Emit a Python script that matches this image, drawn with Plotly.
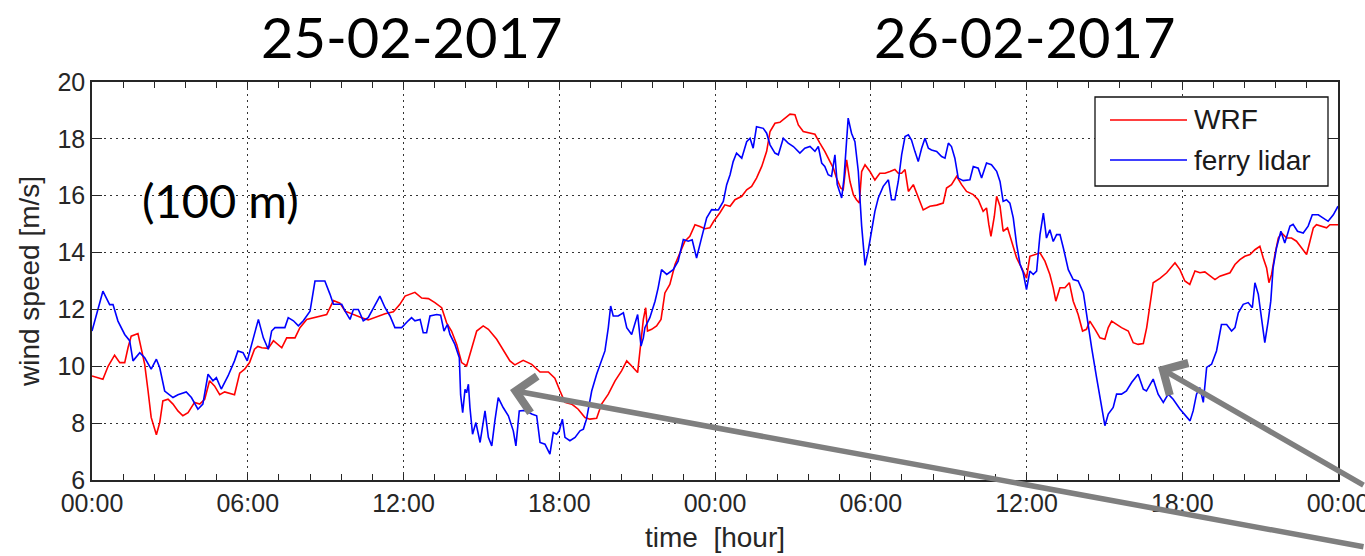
import plotly.graph_objects as go

# ---------------- data ----------------
wrf_hours = [0.0, 0.42, 0.62, 0.87, 1.07, 1.26, 1.39, 1.51, 1.77, 1.90, 2.03, 2.16, 2.28, 2.48, 2.61, 2.73, 2.93,
             3.12, 3.31, 3.50, 3.70, 3.95, 4.15, 4.34, 4.53, 4.72, 4.92, 5.11, 5.49, 5.69, 5.88, 6.07, 6.26, 6.39,
             6.54, 6.79, 6.99, 7.31, 7.50, 7.82, 8.01, 8.27, 8.59, 9.04, 9.30, 9.55, 9.75, 10.13, 10.39, 10.64,
             10.96, 11.29, 11.61, 11.86, 12.06, 12.44, 12.70, 12.96, 13.21, 13.47, 13.66, 13.85, 14.05, 14.24,
             14.43, 14.62, 14.82, 15.07, 15.27, 15.59, 15.84, 16.10, 16.29, 16.61, 16.94, 17.26, 17.58, 17.83,
             18.03, 18.22, 18.48, 18.73, 18.99, 19.18, 19.44, 19.63, 19.89, 20.15, 20.40, 20.60, 20.79, 21.02,
             21.15, 21.24, 21.33, 21.40, 21.56, 21.75, 21.92, 22.07, 22.26, 22.46, 22.65, 22.84, 23.03, 23.23,
             23.42, 23.61, 23.80, 23.95, 24.19, 24.38, 24.58, 24.77, 25.03, 25.22, 25.41, 25.60, 25.80, 25.99,
             26.12, 26.31, 26.50, 26.69, 26.89, 27.08, 27.21, 27.40, 27.66, 27.85, 28.04, 28.23, 28.43, 28.56,
             28.68, 28.84, 28.94, 29.07, 29.20, 29.33, 29.45, 29.56, 29.65, 29.78, 29.97, 30.16, 30.35, 30.55,
             30.74, 30.93, 31.06, 31.19, 31.32, 31.45, 31.64, 31.83, 32.02, 32.28, 32.54, 32.79, 32.92, 33.11,
             33.31, 33.50, 33.69, 33.95, 34.14, 34.33, 34.46, 34.55, 34.63, 34.76, 34.85, 34.98, 35.10, 35.27,
             35.43, 35.62, 35.81, 36.00, 36.13, 36.32, 36.52, 36.71, 36.90, 37.03, 37.13, 37.29, 37.48, 37.65,
             37.80, 37.99, 38.16, 38.31, 38.44, 38.64, 38.83, 39.02, 39.15, 39.28, 39.47, 39.66, 39.92, 40.11,
             40.30, 40.50, 40.63, 40.75, 40.88, 41.14, 41.40, 41.72, 41.91, 42.10, 42.29, 42.49, 42.68, 42.87,
             43.07, 43.26, 43.45, 43.64, 43.84, 44.03, 44.22, 44.41, 44.61, 44.80, 44.99, 45.12, 45.25, 45.34,
             45.44, 45.57, 45.70, 45.83, 46.02, 46.21, 46.40, 46.60, 46.79, 46.92, 47.05, 47.17, 47.37, 47.56,
             47.69, 48.0]
wrf_speed = [9.66, 9.54, 10.00, 10.39, 10.13, 10.13, 10.66, 11.06, 11.15, 10.66, 10.07, 9.13, 8.20, 7.59, 8.02, 8.78,
             8.84, 8.67, 8.43, 8.26, 8.37, 8.73, 8.67, 8.84, 9.49, 9.31, 9.00, 9.10, 9.00, 9.76, 9.90, 10.13, 10.60,
             10.70, 10.65, 10.63, 10.90, 10.65, 11.00, 11.00, 11.36, 11.65, 11.73, 11.82, 12.31, 12.22, 11.94,
             11.82, 11.71, 11.63, 11.73, 11.85, 11.92, 12.18, 12.47, 12.60, 12.40, 12.38, 12.24, 12.06, 11.53,
             11.24, 10.77, 10.13, 10.01, 10.60, 11.24, 11.42, 11.30, 10.95, 10.60, 10.19, 10.05, 10.21, 10.07,
             9.80, 9.80, 9.58, 9.13, 8.73, 8.67, 8.49, 8.20, 8.14, 8.17, 8.67, 9.02, 9.49, 9.84, 10.19, 10.01,
             9.78, 10.89, 11.65, 12.06, 11.24, 11.30, 11.42, 11.65, 12.58, 12.88, 13.58, 13.99, 14.40, 14.57,
             14.98, 14.92, 14.84, 14.87, 15.10, 15.40, 15.68, 15.63, 15.86, 15.98, 16.21, 16.33, 16.62, 17.03,
             17.56, 18.26, 18.55, 18.58, 18.73, 18.87, 18.85, 18.49, 18.26, 18.20, 18.16, 17.85, 17.56, 17.20,
             16.97, 16.62, 16.27, 16.21, 17.26, 16.50, 16.04, 15.86, 15.74, 16.85, 17.09, 16.85, 16.55, 16.79,
             16.79, 16.85, 16.92, 16.79, 16.79, 16.92, 16.15, 16.39, 15.92, 15.50, 15.63, 15.67, 15.74, 16.27,
             16.39, 16.68, 16.39, 16.15, 16.04, 15.86, 15.45, 15.57, 14.98, 14.57, 15.27, 15.98, 15.63, 14.75,
             14.87, 14.40, 13.81, 13.46, 13.10, 13.87, 13.93, 13.99, 13.70, 13.23, 12.76, 12.29, 12.76, 12.76,
             12.94, 12.29, 11.82, 11.24, 11.30, 11.59, 11.30, 11.00, 10.95, 11.36, 11.59, 11.47, 11.36, 11.24,
             10.83, 10.77, 10.80, 11.36, 12.18, 12.94, 13.09, 13.29, 13.64, 13.40, 13.00, 12.88, 13.35, 13.29,
             13.32, 13.17, 13.05, 13.17, 13.23, 13.29, 13.58, 13.75, 13.87, 13.93, 14.10, 14.22, 13.81, 13.46,
             12.94, 13.23, 13.93, 14.51, 14.69, 14.51, 14.51, 14.40, 14.16, 13.93, 14.40, 14.87, 14.98, 14.92,
             14.87, 14.98, 14.98]

lidar_hours = [0.0, 0.42, 0.68, 0.81, 1.00, 1.26, 1.45, 1.58, 1.84, 2.03, 2.28, 2.48, 2.61, 2.80, 3.12, 3.31, 3.63,
               3.83, 4.08, 4.27, 4.47, 4.66, 4.79, 4.98, 5.24, 5.49, 5.62, 5.82, 5.98, 6.14, 6.41, 6.60, 6.79,
               6.92, 7.05, 7.43, 7.56, 7.76, 7.95, 8.14, 8.40, 8.59, 8.97, 9.17, 9.30, 9.62, 9.75, 9.94, 10.07,
               10.26, 10.45, 10.64, 10.84, 11.09, 11.29, 11.48, 11.67, 11.93, 12.18, 12.31, 12.44, 12.64, 12.76,
               12.89, 13.02, 13.28, 13.43, 13.56, 13.69, 13.79, 13.98, 14.15, 14.20, 14.28, 14.37, 14.43, 14.50,
               14.56, 14.66, 14.79, 14.95, 15.14, 15.27, 15.40, 15.52, 15.65, 15.84, 16.04, 16.23, 16.33, 16.46,
               16.68, 16.94, 17.13, 17.26, 17.45, 17.64, 17.77, 17.90, 18.00, 18.12, 18.22, 18.41, 18.61, 18.80,
               18.93, 19.05, 19.25, 19.44, 19.63, 19.76, 19.89, 19.98, 20.08, 20.27, 20.47, 20.60, 20.79, 20.92,
               21.02, 21.15, 21.24, 21.30, 21.49, 21.69, 21.81, 21.94, 22.14, 22.39, 22.58, 22.78, 22.97, 23.12,
               23.29, 23.48, 23.68, 23.87, 24.13, 24.32, 24.45, 24.58, 24.70, 24.83, 25.03, 25.22, 25.35, 25.47,
               25.60, 25.86, 25.99, 26.12, 26.31, 26.44, 26.63, 26.82, 27.02, 27.27, 27.46, 27.66, 27.85, 27.98,
               28.11, 28.23, 28.36, 28.49, 28.62, 28.71, 28.88, 28.97, 29.07, 29.13, 29.26, 29.39, 29.52, 29.65,
               29.78, 29.90, 30.03, 30.16, 30.29, 30.48, 30.68, 30.80, 30.93, 31.06, 31.19, 31.32, 31.45, 31.57,
               31.70, 31.83, 31.96, 32.09, 32.22, 32.34, 32.54, 32.73, 32.86, 32.99, 33.11, 33.24, 33.37, 33.56,
               33.82, 33.95, 34.14, 34.27, 34.46, 34.65, 34.85, 34.98, 35.10, 35.23, 35.36, 35.49, 35.62, 35.75,
               35.87, 36.00, 36.13, 36.26, 36.39, 36.52, 36.65, 36.77, 36.90, 37.03, 37.16, 37.29, 37.42, 37.61,
               37.80, 37.99, 38.19, 38.31, 38.51, 38.70, 38.89, 39.02, 39.15, 39.34, 39.47, 39.66, 39.85, 40.05,
               40.30, 40.50, 40.62, 40.88, 41.07, 41.27, 41.46, 41.65, 41.91, 42.10, 42.30, 42.42, 42.55, 42.68,
               42.81, 42.94, 43.13, 43.32, 43.51, 43.71, 43.90, 44.03, 44.16, 44.35, 44.54, 44.70, 44.80, 44.93,
               45.06, 45.18, 45.31, 45.41, 45.50, 45.63, 45.80, 45.95, 46.15, 46.27, 46.44, 46.66, 46.85, 47.01,
               47.24, 47.43, 47.62, 47.82, 48.0]
lidar_speed = [11.24, 12.64, 12.17, 12.17, 11.59, 11.12, 10.90, 10.19, 10.48, 10.30, 9.90, 10.25, 9.95, 9.13, 8.90,
               9.00, 9.10, 8.90, 8.49, 8.67, 9.72, 9.49, 9.60, 9.20, 9.66, 10.19, 10.54, 10.48, 10.19, 10.77, 11.65,
               11.00, 10.60, 11.24, 11.36, 11.36, 11.71, 11.60, 11.42, 11.60, 11.94, 13.00, 13.00, 12.53, 12.18,
               12.18, 11.94, 11.65, 12.00, 12.00, 11.60, 11.71, 12.06, 12.47, 12.06, 11.77, 11.36, 11.36, 11.60,
               11.71, 11.60, 11.65, 11.18, 11.18, 11.77, 11.82, 11.80, 11.24, 11.47, 11.12, 10.77, 10.30, 9.00,
               8.37, 9.19, 9.07, 9.37, 8.55, 7.61, 8.02, 7.32, 8.43, 7.50, 7.20, 8.08, 8.90, 8.55, 8.26, 7.73,
               7.20, 8.43, 8.45, 8.32, 8.26, 7.32, 7.26, 6.91, 7.67, 7.61, 7.73, 8.14, 7.50, 7.38, 7.50, 7.73,
               7.79, 8.14, 9.13, 9.72, 10.19, 10.54, 11.36, 12.12, 11.77, 11.77, 11.88, 11.36, 11.12, 11.53,
               11.82, 10.71, 11.00, 11.36, 11.71, 12.29, 12.76, 13.40, 13.23, 13.40, 13.70, 14.46, 14.40, 14.45,
               13.81, 14.51, 15.22, 15.51, 15.50, 15.80, 16.39, 16.74, 17.20, 17.50, 17.32, 17.90, 18.02, 17.67,
               18.43, 18.37, 18.20, 17.79, 17.50, 17.44, 18.02, 17.85, 17.73, 17.50, 17.67, 17.73, 17.56, 17.73,
               17.15, 17.03, 16.74, 16.68, 17.44, 16.39, 15.92, 16.62, 18.08, 18.73, 18.20, 17.90, 16.86, 14.93,
               13.55, 14.05, 14.75, 15.45, 15.92, 16.33, 16.56, 15.86, 15.86, 16.50, 17.44, 18.08, 18.14, 17.96,
               17.56, 17.20, 17.67, 18.02, 17.67, 17.61, 17.56, 17.38, 17.32, 17.85, 17.73, 17.32, 16.62, 16.53,
               16.56, 17.03, 16.97, 16.62, 17.15, 17.09, 16.86, 16.50, 15.80, 15.86, 15.74, 15.22, 14.28, 13.60,
               13.30, 12.70, 13.35, 13.23, 13.35, 14.63, 15.39, 14.51, 14.80, 14.39, 14.63, 14.63, 14.16, 13.40,
               13.05, 13.00, 12.59, 11.82, 10.65, 9.60, 8.67, 7.91, 8.32, 8.55, 9.02, 9.02, 9.13, 9.43,
               9.72, 9.19, 9.13, 9.55, 9.02, 8.73, 9.02, 8.84, 8.50, 8.29, 8.08, 8.43, 9.02, 9.25,
               8.73, 9.96, 10.07, 10.54, 11.47, 11.47, 11.24, 11.36, 11.88, 12.18, 12.24, 12.06, 12.94, 12.53,
               11.71, 10.83, 11.59, 12.29, 13.46, 14.16, 14.75, 14.34, 14.93, 14.99, 14.75, 14.69, 14.93, 15.33,
               15.33, 15.22, 15.10, 15.33, 15.63]

tick_hours = [0, 6, 12, 18, 24, 30, 36, 42, 48]
tick_labels = ["00:00", "06:00", "12:00", "18:00", "00:00", "06:00", "12:00", "18:00", "00:00"]
series_names = ["WRF", "ferry lidar"]
series_colors = ["#ff0000", "#0000ff"]
date_labels = ["25-02-2017", "26-02-2017"]

# ---------------- figure ----------------
W, H = 1365, 556
L, R, T, B = 92, 27, 82, 76
pw, ph = W - L - R, H - T - B


def px_x(px):
    return (px - L) / pw


def px_y(py):
    return (H - B - py) / ph


fig = go.Figure()
fig.add_trace(go.Scatter(x=wrf_hours, y=wrf_speed, mode="lines", name=series_names[0],
                         line=dict(color=series_colors[0], width=1.6), showlegend=False))
fig.add_trace(go.Scatter(x=lidar_hours, y=lidar_speed, mode="lines", name=series_names[1],
                         line=dict(color=series_colors[1], width=1.6), showlegend=False))

tick_font = dict(family="Liberation Sans, Arial, sans-serif", size=25, color="#262626")
title_font = dict(family="Liberation Sans, Arial, sans-serif", size=28, color="#262626")

fig.update_xaxes(range=[0, 48], tickvals=tick_hours, ticktext=tick_labels,
                 ticks="inside", ticklen=6, tickwidth=1, tickcolor="#262626",
                 minor=dict(dtick=1.2, tick0=0, ticks="inside", ticklen=6, tickcolor="#262626", showgrid=False),
                 showline=True, linecolor="#262626", linewidth=1.5, mirror="allticks",
                 showgrid=True, gridcolor="#333333", gridwidth=1.3, griddash="1.5px,4.5px",
                 zeroline=False, tickfont=tick_font, ticklabeloverflow="allow",
                 title=dict(text="time\u00a0 [hour]", font=title_font, standoff=12))
fig.update_yaxes(range=[6, 20], dtick=2, tick0=6,
                 ticks="inside", ticklen=10, tickwidth=1, tickcolor="#262626",
                 showline=True, linecolor="#262626", linewidth=1.5, mirror="allticks",
                 showgrid=True, gridcolor="#333333", gridwidth=1.3, griddash="1.5px,4.5px",
                 zeroline=False, tickfont=tick_font,
                 title=dict(text="wind speed [m/s]", font=title_font, standoff=10))

shapes = []
annotations = []

# manual legend (MATLAB style)
shapes.append(dict(type="rect", xref="paper", yref="paper",
                   x0=px_x(1095), x1=px_x(1328), y0=px_y(186), y1=px_y(97),
                   line=dict(color="#111111", width=1.3), fillcolor="white", layer="above"))
for i, (name, col) in enumerate(zip(series_names, series_colors)):
    yy = 120 + 40 * i
    shapes.append(dict(type="line", xref="paper", yref="paper",
                       x0=px_x(1110), x1=px_x(1187), y0=px_y(yy), y1=px_y(yy),
                       line=dict(color=col, width=1.6), layer="above"))
    annotations.append(dict(text=name, xref="paper", yref="paper", x=px_x(1192), y=px_y(yy),
                            xanchor="left", yanchor="middle", showarrow=False,
                            font=dict(family="Liberation Sans, Arial, sans-serif", size=28, color="#1a1a1a")))

# slide texts
slide_font = dict(family="Lato, Noto Sans, sans-serif", size=56, color="black")
annotations.append(dict(text=date_labels[0], xref="paper", yref="paper", x=px_x(412), y=px_y(36),
                        xanchor="center", yanchor="middle", showarrow=False, font=slide_font))
annotations.append(dict(text=date_labels[1], xref="paper", yref="paper", x=px_x(1024), y=px_y(36),
                        xanchor="center", yanchor="middle", showarrow=False, font=slide_font))
annotations.append(dict(text="(100 m)", xref="paper", yref="paper", x=px_x(220), y=px_y(200),
                        xanchor="center", yanchor="middle", showarrow=False,
                        font=dict(family="Lato, Noto Sans, sans-serif", size=47, color="black")))

# gray arrows
for tip, tail in [((510, 390), (1365, 547)), ((1158, 367), (1365, 486))]:
    annotations.append(dict(text="", xref="paper", yref="paper", x=px_x(tip[0]), y=px_y(tip[1]),
                            ax=tail[0] - tip[0], ay=tail[1] - tip[1], axref="pixel", ayref="pixel",
                            showarrow=True, arrowhead=4, arrowsize=1.3, arrowwidth=5.5,
                            arrowcolor="#7f7f7f"))

fig.update_layout(width=W, height=H, margin=dict(l=L, r=R, t=T, b=B, autoexpand=False),
                  paper_bgcolor="white", plot_bgcolor="white",
                  shapes=shapes, annotations=annotations)

fig.write_html("out.html")
